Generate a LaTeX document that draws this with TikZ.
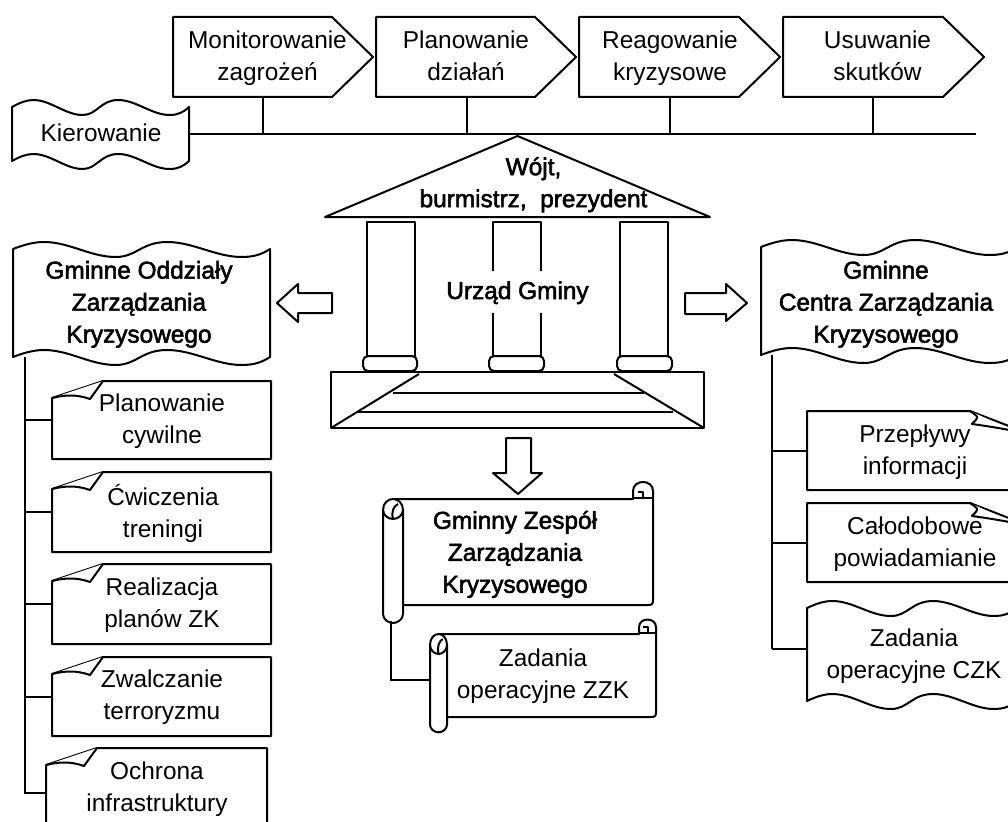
\documentclass[tikz,border=0pt]{standalone}
\usepackage{fontspec}
\setmainfont{Liberation Sans}
\newfontface\fakebf[FakeBold=2.2]{Liberation Sans}
\usetikzlibrary{calc}
\tikzset{
  x=1pt,y=-1pt,
  ln/.style={draw=black,line width=2pt,line join=round,fill=white},
  wire/.style={draw=black,line width=2pt,line join=miter},
  txt/.style={align=center,inner sep=0pt,font=\fontsize{24.4}{32}\selectfont,execute at begin node=\strut,execute at end node=\strut},
  btxt/.style={txt,font=\fontsize{24.4}{32}\selectfont\fakebf},
}
% name, x, ytop, w, h
\newcommand{\frameat}[5]{\node[inner sep=0pt,outer sep=0pt,minimum width=#4pt,minimum height=#5pt] (#1) at ({#2+#4/2},{#3+#5/2}) {};}
% pentagon arrow: name x ytop w h
\newcommand{\pentabox}[5]{\frameat{#1}{#2}{#3}{#4}{#5}
 \draw[ln] (#2,#3) -- ({#2+#4-41},#3) -- ({#2+#4},{#3+#5/2}) -- ({#2+#4-41},{#3+#5}) -- (#2,{#3+#5}) -- cycle;}
% wave box: name x yleft w h
\newcommand{\wavebox}[5]{\frameat{#1}{#2}{#3}{#4}{#5}
 \begin{scope}[shift={(#2,#3)},xscale=#4/100]
 \draw[ln] (0,0) .. controls (4,-4) and (8,-7) .. (12,-7) .. controls (22,-7) and (30,8) .. (40,8)
  .. controls (48,8) and (50,-7) .. (60,-7) .. controls (70,-7) and (79,8) .. (89,8)
  .. controls (94,8) and (97,5) .. (100,0)
  -- (100,#5)
  .. controls (97,{#5+5}) and (94,{#5+8}) .. (89,{#5+8}) .. controls (79,{#5+8}) and (70,{#5-7}) .. (60,{#5-7})
  .. controls (50,{#5-7}) and (48,{#5+8}) .. (40,{#5+8}) .. controls (30,{#5+8}) and (22,{#5-7}) .. (12,{#5-7})
  .. controls (8,{#5-7}) and (4,{#5-4}) .. (0,#5) -- cycle;
 \end{scope}}
% note with folded top-left corner: name x ytop w h
\newcommand{\foldleft}[5]{\frameat{#1}{#2}{#3}{#4}{#5}
 \draw[ln] (#2,{#3+17}) -- ({#2+51},#3) -- ({#2+#4},#3) -- ({#2+#4},{#3+#5}) -- (#2,{#3+#5}) -- cycle;
 \draw[ln] (#2,{#3+17}) .. controls ({#2+12},{#3+14}) and ({#2+24},{#3+13}) .. ({#2+38},{#3+18}) -- ({#2+51},#3);}
% note with folded top-right corner: name x ytop w h
\newcommand{\foldright}[5]{\frameat{#1}{#2}{#3}{#4}{#5}
 \draw[ln] ({#2+#4-44},#3) -- ({#2+#4},{#3+17}) -- ({#2+#4},{#3+#5}) -- (#2,{#3+#5}) -- (#2,#3) -- cycle;
 \draw[ln] ({#2+#4-44},#3) .. controls ({#2+#4-40},{#3+3}) and ({#2+#4-36},{#3+5}) .. ({#2+#4-37},{#3+7})
   .. controls ({#2+#4-38},{#3+10}) and ({#2+#4-42},{#3+12}) .. ({#2+#4-42},{#3+13}) .. controls ({#2+#4-28},{#3+15}) and ({#2+#4-14},{#3+17}) .. ({#2+#4},{#3+20});}
% scroll: name x ytop(body) w h rollw
\newcommand{\scrollbox}[6]{\frameat{#1}{#2}{#3}{#4}{#5}
 \draw[ln] ({#2+#6-2},{#3+#5}) -- ({#2+#4-5},{#3+#5}) .. controls ({#2+#4-1},{#3+#5}) and ({#2+#4},{#3+#5-1}) .. ({#2+#4},{#3+#5-5})
   -- ({#2+#4},{#3-#6*0.4})
   .. controls ({#2+#4},{#3-#6*0.7}) and ({#2+#4-#6*0.25},{#3-#6*0.85}) .. ({#2+#4-#6*0.5},{#3-#6*0.85})
   .. controls ({#2+#4-#6*0.75},{#3-#6*0.85}) and ({#2+#4-#6},{#3-#6*0.7}) .. ({#2+#4-#6},{#3-#6*0.4})
   -- ({#2+#4-#6},#3) -- ({#2+#6/2},#3) -- ({#2+#6/2},{#3+10}) -- cycle;
 \draw[line width=2pt,line join=round] ({#2+#4-#6},{#3-1}) -- ({#2+#4},{#3-1});
 \draw[line width=2pt,line join=round] ({#2+#4-#6*0.5},{#3-1}) -- ({#2+#4-#6*0.5},{#3-7}) -- ({#2+#4-#6*0.75},{#3-7});
 \draw[ln] (#2,{#3+11}) .. controls (#2,{#3+4}) and ({#2+#6*0.25},#3) .. ({#2+#6*0.5},#3)
   .. controls ({#2+#6*0.75},#3) and ({#2+#6},{#3+4}) .. ({#2+#6},{#3+11})
   -- ({#2+#6},{#3+#5+#6*0.45})
   .. controls ({#2+#6},{#3+#5+#6*0.7}) and ({#2+#6*0.75},{#3+#5+#6*0.9}) .. ({#2+#6*0.5},{#3+#5+#6*0.9})
   .. controls ({#2+#6*0.25},{#3+#5+#6*0.9}) and (#2,{#3+#5+#6*0.7}) .. (#2,{#3+#5+#6*0.45}) -- cycle;
 \draw[line width=2pt] (#2,{#3+11}) .. controls (#2,{#3+16}) and ({#2+#6*0.25},{#3+20}) .. ({#2+#6*0.5},{#3+20})
   .. controls ({#2+#6*0.75},{#3+20}) and ({#2+#6},{#3+16}) .. ({#2+#6},{#3+11});
 \draw[line width=2pt] ({#2+#6*0.5},{#3+20}) .. controls ({#2+#6*0.4},{#3+12}) and ({#2+#6*0.55},{#3+7}) .. ({#2+#6*0.75},{#3+5});}
\begin{document}
\begin{tikzpicture}
\useasboundingbox (0,0) rectangle (1008,821);
\clip (0,0) rectangle (1008,821);

\coordinate (busend) at (976,134);
\coordinate (ltrunkend) at (24.5,793);
\coordinate (rtrunkend) at (772,649);

% top process chain
\pentabox{mon}{173}{17}{200}{80}
\pentabox{pla}{376}{17}{200}{80}
\pentabox{rea}{579}{17}{201}{80}
\pentabox{usu}{783}{17}{201}{80}
\node[txt] (mont) at (267.5,60.6) {Monitorowanie\\zagrożeń};
\node[txt] (plat) at (466,60.6) {Planowanie\\działań};
\node[txt] (reat) at (670,60.6) {Reagowanie\\kryzysowe};
\node[txt] (usut) at (877.5,60.6) {Usuwanie\\skutków};

\wavebox{kie}{12}{107}{177}{54}
\node[txt] (kiet) at (101,135) {Kierowanie};

\draw[wire] (kie.east) -- (busend);
\coordinate (s1) at (263,134);
\coordinate (s2) at (467,134);
\coordinate (s3) at (669.5,134);
\coordinate (s4) at (873,134);
\draw[wire] (s1 |- mon.south) -- (s1);
\draw[wire] (s2 |- pla.south) -- (s2);
\draw[wire] (s3 |- rea.south) -- (s3);
\draw[wire] (s4 |- usu.south) -- (s4);

% building
\draw[ln] (325,217) -- (517.5,136) -- (710,217) -- cycle;
\node[btxt] (wojt) at (533.5,187) {Wójt,\\burmistrz,~~prezydent};
\foreach \nm/\cx/\cy/\bx/\bw in {c1/367/415/363/54, c2/493/541/489/55, c3/620/668/617/55}{
  \draw[ln] (\cx,222) rectangle (\cy,358);
  \draw[ln,rounded corners=5pt] (\bx,356) rectangle ({\bx+\bw},371);
}
\draw[ln] (331,372) rectangle (704,428);
\draw[wire] (331,428) -- (419,374);
\draw[wire] (704,428) -- (614,374);
\draw[wire] (393,393) -- (644,393);
\draw[wire] (358,412) -- (673,412);
\node[fill=white,inner sep=0pt,minimum width=60pt,minimum height=42pt] (urz) at (517,292) {};
\node[btxt] (urzt) at (517.5,292.6) {Urząd Gminy};

% block arrows
\draw[ln] (277,303) -- (298,284) -- (298,293) -- (332,293) -- (332,313) -- (298,313) -- (298,322) -- cycle;
\draw[ln] (747,303) -- (726,284) -- (726,293) -- (685,293) -- (685,314) -- (726,314) -- (726,321) -- cycle;
\draw[ln] (518,494) -- (493,473) -- (506,473) -- (506,438) -- (531,438) -- (531,473) -- (542,473) -- cycle;

% left column
\wavebox{gok}{13}{249}{257}{108}
\node[btxt] (gokt) at (139,306.6) {Gminne Oddziały\\Zarządzania\\Kryzysowego};
\foldleft{n1}{52}{381}{219}{78}
\foldleft{n2}{52}{472}{219}{80}
\foldleft{n3}{52}{564}{219}{80}
\foldleft{n4}{52}{657}{219}{79}
\foldleft{n5}{46}{748}{221}{90}
\draw[wire] (gok.south -| ltrunkend) -- (ltrunkend) -- (n5.west);
\draw[wire] (ltrunkend |- n1.west) -- (n1.west);
\draw[wire] (ltrunkend |- n2.west) -- (n2.west);
\draw[wire] (ltrunkend |- n3.west) -- (n3.west);
\draw[wire] (ltrunkend |- n4.west) -- (n4.west);
\node[txt] (n1t) at (162,423) {Planowanie\\cywilne};
\node[txt] (n2t) at (163,515.6) {Ćwiczenia\\treningi};
\node[txt] (n3t) at (162,607) {Realizacja\\planów ZK};
\node[txt] (n4t) at (162,699) {Zwalczanie\\terroryzmu};
\node[txt] (n5t) at (157,791.6) {Ochrona\\infrastruktury};

% right column
\wavebox{gcz}{761}{247}{257}{108}
\node[btxt] (gczt) at (886,306.6) {Gminne\\Centra Zarządzania\\Kryzysowego};
\draw[wire] (rtrunkend |- gcz.south) -- (rtrunkend);
\foldright{p1}{807}{411}{207}{79}
\foldright{p2}{807}{503}{207}{79}
\wavebox{zcz}{807}{608}{210}{93}
\node[txt] (p1t) at (915,454.6) {Przepływy\\informacji};
\node[txt] (p2t) at (915,546.6) {Całodobowe\\powiadamianie};
\node[txt] (zczt) at (914,658.6) {Zadania\\operacyjne CZK};
\draw[wire] (rtrunkend |- p1.west) -- (p1.west);
\draw[wire] (rtrunkend |- p2.west) -- (p2.west);
\draw[wire] (rtrunkend) -- (zcz.west |- rtrunkend);

% scrolls
\coordinate (rollb) at (391,621);
\coordinate (sc) at (391,680);
\scrollbox{zzk}{383}{499}{270}{106}{20}
\scrollbox{zad}{430}{634}{226}{83}{17}
\draw[wire] (rollb) -- (sc) -- (zad.west |- sc);
\node[btxt] (zzkt) at (515,556.6) {Gminny Zespół\\Zarządzania\\Kryzysowego};
\node[txt] (zadt) at (543,678.6) {Zadania\\operacyjne ZZK};
\end{tikzpicture}
\end{document}
